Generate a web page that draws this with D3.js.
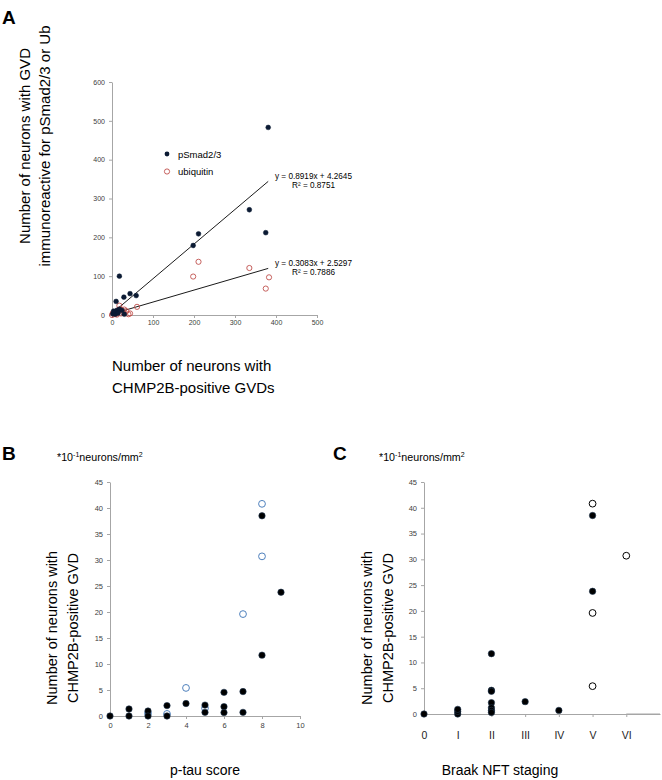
<!DOCTYPE html>
<html><head><meta charset="utf-8">
<script src="https://cdn.jsdelivr.net/npm/d3@7"></script>
<style>body{margin:0;background:#fff}svg{display:block;font-family:"Liberation Sans",Arial,sans-serif}</style>
</head><body><svg id="c" width="662" height="780"></svg>
<script>
// Panel A data
const pSmadX = [381,335,375,211,198,18,10,29,44,59,2,5,8,12,18,24,30,4,15];
const pSmadY = [483,271,212,209,179,100,35,46,55,50,3,8,2,12,15,12,2,10,5];
const ubX = [211,198,335,383,375,61,44,18,0,2,5,8,12,15,20,25,30,35,22,28,10,40];
const ubY = [137,99,121,97,68,21,4,24,0,5,2,8,1,12,15,12,14,10,4,6,3,2];
const fitA = [{slope:0.8919,icpt:4.2645,eq:"y = 0.8919x + 4.2645",r2:"R² = 0.8751"},
              {slope:0.3083,icpt:2.5297,eq:"y = 0.3083x + 2.5297",r2:"R² = 0.7886"}];
const ticksAX = [0,100,200,300,400,500];
const ticksAY = [0,100,200,300,400,500,600];
// Panel B data (p-tau score)
const bFilledX = [0,1,1,2,2,3,3,4,5,5,6,6,6,7,7,8,8,9];
const bFilledY = [0,1.35,0,0.95,0,2.0,0,2.4,2.1,0.7,4.55,1.8,0.65,4.7,0.7,11.7,38.5,23.8];
const bOpenX = [4,7,8,8,2,3,5];
const bOpenY = [5.4,19.6,30.7,40.8,0.5,0.4,1.5];
const ticksBX = [0,2,4,6,8,10];
const ticksY = [0,5,10,15,20,25,30,35,40,45];
// Panel C data (Braak NFT stage)
const braakLabels = ["0","I","II","III","IV","V","VI"];
const cFilledX = [0,1,1,1,2,2,2,2,2,2,2,3,4,5,5];
const cFilledY = [0,0,0.5,0.9,11.7,4.6,4.4,2.2,1.2,0.7,0.3,2.4,0.7,23.8,38.5];
const cOpenX = [5,5,5,6];
const cOpenY = [5.4,19.6,40.8,30.7];

const svg = d3.select("#c");
const axisCol = "#a6a6a6", tickCol = "#404040";

function styleAxis(g){
  g.select(".domain").attr("stroke",axisCol);
  g.selectAll(".tick line").attr("stroke",axisCol);
  g.selectAll(".tick text").attr("fill",tickCol).attr("font-family","Liberation Sans, Arial, sans-serif");
}

// ---------- Panel A ----------
const xA = d3.scaleLinear([0,500],[112,317]);
const yA = d3.scaleLinear([0,600],[315,82]);
svg.append("g").attr("transform","translate(0,315)")
  .call(d3.axisBottom(xA).tickValues(ticksAX).tickSize(3).tickPadding(2).tickSizeOuter(0))
  .call(styleAxis).selectAll("text").attr("font-size",7);
svg.append("g").attr("transform","translate(112,0)")
  .call(d3.axisLeft(yA).tickValues(ticksAY).tickSize(3).tickPadding(4).tickSizeOuter(0))
  .call(styleAxis).selectAll("text").attr("font-size",7);

// trend lines
fitA.forEach((f,i)=>{
  svg.append("line").attr("x1",xA(0)).attr("y1",yA(f.icpt))
    .attr("x2",xA(381)).attr("y2",yA(f.slope*381+f.icpt))
    .attr("stroke","#000").attr("stroke-width",0.9);
});
svg.selectAll(".ub").data(ubX).join("circle")
  .attr("cx",(d)=>xA(d)).attr("cy",(d,i)=>yA(ubY[i])).attr("r",2.6)
  .attr("fill","none").attr("stroke","#c0504d").attr("stroke-width",0.9);
svg.selectAll(".ps").data(pSmadX).join("circle")
  .attr("cx",(d)=>xA(d)).attr("cy",(d,i)=>yA(pSmadY[i])).attr("r",2.4)
  .attr("fill","#0b1a33").attr("stroke","#0b1a33").attr("stroke-width",0.5);

// equations
const eqPos = [{x:275,y:179},{x:275,y:266}];
fitA.forEach((f,i)=>{
  const t = svg.append("text").attr("font-size",8.2).attr("fill","#000");
  t.append("tspan").attr("x",eqPos[i].x).attr("y",eqPos[i].y).text(f.eq);
  t.append("tspan").attr("x",eqPos[i].x+17).attr("y",eqPos[i].y+9).text(f.r2);
});
// legend
svg.append("circle").attr("cx",167).attr("cy",154).attr("r",2.4).attr("fill","#0b1a33");
svg.append("text").attr("x",178).attr("y",157.5).attr("font-size",9.5).text("pSmad2/3");
svg.append("circle").attr("cx",167).attr("cy",171.5).attr("r",2.6).attr("fill","none").attr("stroke","#c0504d").attr("stroke-width",0.9);
svg.append("text").attr("x",178).attr("y",175).attr("font-size",9.5).text("ubiquitin");

// axis titles A
const ta = svg.append("text").attr("transform","rotate(-90)").attr("font-size",15).attr("text-anchor","middle");
ta.append("tspan").attr("x",-146).attr("y",30).text("Number of neurons with GVD");
ta.append("tspan").attr("x",-146).attr("y",50).text("immunoreactive for pSmad2/3 or Ub");
const txa = svg.append("text").attr("font-size",15);
txa.append("tspan").attr("x",112).attr("y",371).text("Number of neurons with");
txa.append("tspan").attr("x",112).attr("y",393).text("CHMP2B-positive GVDs");

// panel labels
svg.append("text").attr("x",2).attr("y",24).attr("font-size",19).attr("font-weight","bold").text("A");
svg.append("text").attr("x",2).attr("y",460).attr("font-size",19).attr("font-weight","bold").text("B");
svg.append("text").attr("x",333).attr("y",460).attr("font-size",19).attr("font-weight","bold").text("C");

// unit labels
function unitLabel(x,y){
  const t = svg.append("text").attr("x",x).attr("y",y).attr("font-size",10.7);
  t.append("tspan").text("*10");
  t.append("tspan").attr("font-size",7).attr("dy",-4).text("-1");
  t.append("tspan").attr("dy",4).text("neurons/mm");
  t.append("tspan").attr("font-size",7).attr("dy",-4).text("2");
}
unitLabel(57,461);
unitLabel(379,461);

// ---------- Panel B ----------
const xB = d3.scaleLinear([0,10],[110,300]);
const yB = d3.scaleLinear([0,45],[716,482]);
svg.append("g").attr("transform","translate(0,716)")
  .call(d3.axisBottom(xB).tickValues(ticksBX).tickSize(3).tickPadding(4).tickSizeOuter(0))
  .call(styleAxis).selectAll("text").attr("font-size",7.5);
svg.append("g").attr("transform","translate(110,0)")
  .call(d3.axisLeft(yB).tickValues(ticksY).tickSize(3).tickPadding(4).tickSizeOuter(0))
  .call(styleAxis).selectAll("text").attr("font-size",7.5);
svg.selectAll(".bo").data(bOpenX).join("circle")
  .attr("cx",d=>xB(d)).attr("cy",(d,i)=>yB(bOpenY[i])).attr("r",3.4)
  .attr("fill","none").attr("stroke","#4f81bd").attr("stroke-width",1);
svg.selectAll(".bf").data(bFilledX).join("circle")
  .attr("cx",d=>xB(d)).attr("cy",(d,i)=>yB(bFilledY[i])).attr("r",3.2)
  .attr("fill","#000").attr("stroke","#1f3550").attr("stroke-width",0.6);
const tb = svg.append("text").attr("transform","rotate(-90)").attr("font-size",14.5).attr("text-anchor","middle");
tb.append("tspan").attr("x",-628).attr("y",57).text("Number of neurons with");
tb.append("tspan").attr("x",-628).attr("y",78).text("CHMP2B-positive GVD");
svg.append("text").attr("x",205).attr("y",775).attr("font-size",14).attr("text-anchor","middle").text("p-tau score");

// ---------- Panel C ----------
const xC = d3.scaleLinear([0,7],[424,660]);
const yC = d3.scaleLinear([0,45],[714,482]);
svg.append("g").attr("transform","translate(0,714)")
  .call(d3.axisBottom(xC).tickValues(d3.range(braakLabels.length)).tickFormat(i=>braakLabels[i]).tickSize(3).tickPadding(15).tickSizeOuter(0))
  .call(styleAxis).selectAll("text").attr("font-size",10.5).attr("fill","#222");
svg.append("line").attr("x1",xC(6)).attr("x2",xC(7)).attr("y1",714).attr("y2",714).attr("stroke",axisCol);
svg.append("g").attr("transform","translate(424,0)")
  .call(d3.axisLeft(yC).tickValues(ticksY).tickSize(3).tickPadding(4).tickSizeOuter(0))
  .call(styleAxis).selectAll("text").attr("font-size",7.5);
svg.selectAll(".co").data(cOpenX).join("circle")
  .attr("cx",d=>xC(d)).attr("cy",(d,i)=>yC(cOpenY[i])).attr("r",3.4)
  .attr("fill","#fff").attr("stroke","#000").attr("stroke-width",1);
svg.selectAll(".cf").data(cFilledX).join("circle")
  .attr("cx",d=>xC(d)).attr("cy",(d,i)=>yC(cFilledY[i])).attr("r",3.2)
  .attr("fill","#000").attr("stroke","#1f3550").attr("stroke-width",0.6);
const tc = svg.append("text").attr("transform","rotate(-90)").attr("font-size",14.5).attr("text-anchor","middle");
tc.append("tspan").attr("x",-628).attr("y",372).text("Number of neurons with");
tc.append("tspan").attr("x",-628).attr("y",393).text("CHMP2B-positive GVD");
svg.append("text").attr("x",500).attr("y",775).attr("font-size",14).attr("text-anchor","middle").text("Braak NFT staging");
</script></body></html>
